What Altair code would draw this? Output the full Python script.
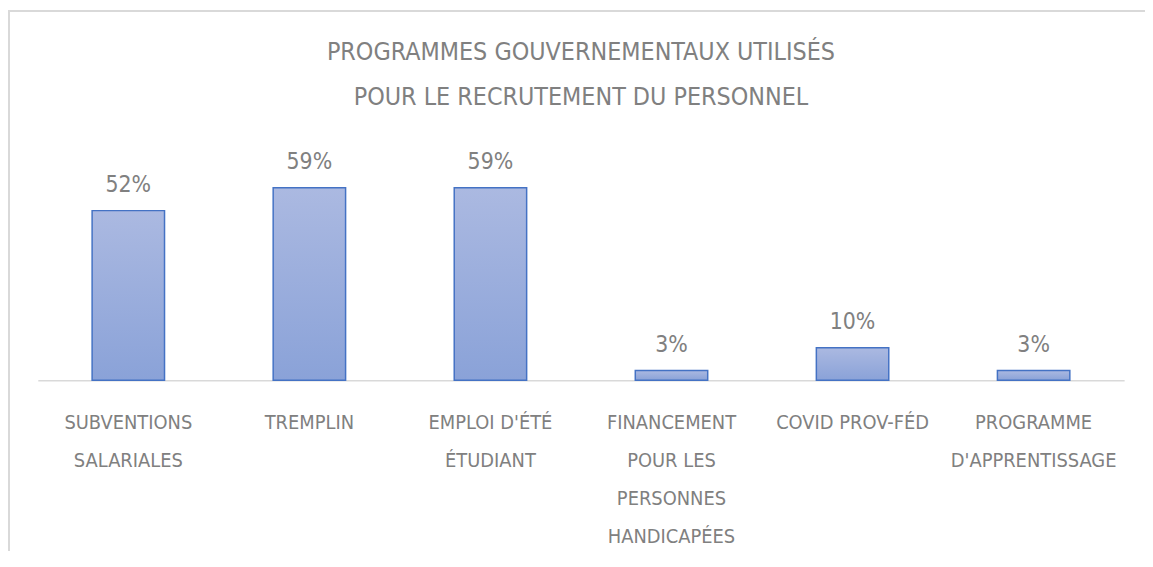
import altair as alt
import pandas as pd

categories = ["Subventions salariales", "Tremplin", "Emploi d'été étudiant",
              "Financement pour les personnes handicapées", "COVID Prov-Féd",
              "Programme d'apprentissage"]
label_lines = ["SUBVENTIONS|SALARIALES", "TREMPLIN", "EMPLOI D'ÉTÉ|ÉTUDIANT",
               "FINANCEMENT|POUR LES|PERSONNES|HANDICAPÉES", "COVID PROV-FÉD",
               "PROGRAMME|D'APPRENTISSAGE"]
values = [0.52, 0.59, 0.59, 0.03, 0.10, 0.03]

df = pd.DataFrame({"cat": categories, "lab": label_lines, "val": values})

FONT = "'DejaVu Sans Condensed', Roboto, sans-serif"
GRAY = "#808080"

label_map = "{" + ",".join(f'"{c}":"{l}"' for c, l in zip(categories, label_lines)) + "}"

x = alt.X("cat:N", sort=categories, title=None,
          scale=alt.Scale(paddingInner=0.6, paddingOuter=0.3),
          axis=alt.Axis(labelExpr=f"split({label_map}[datum.label], '|')",
                        labelAngle=0, labelFont=FONT, labelFontSize=20,
                        labelColor=GRAY, labelLineHeight=38, labelPadding=33,
                        labelBaseline="top", labelLimit=0,
                        ticks=False, domainColor="#d9d9d9", domainWidth=1.5))
y = alt.Y("val:Q", scale=alt.Scale(domain=[0, 0.7]), axis=None)

bars = alt.Chart(df).mark_bar(
    color=alt.Gradient(gradient="linear", x1=0, y1=0, x2=0, y2=1,
                       stops=[alt.GradientStop(color="#abb9e1", offset=0),
                              alt.GradientStop(color="#8aa2d8", offset=1)]),
    stroke="#4472c4", strokeWidth=1.5
).encode(x=x, y=y)

text = alt.Chart(df).mark_text(
    font=FONT, fontSize=23, color=GRAY, baseline="alphabetic", dy=-19
).encode(x=alt.X("cat:N", sort=categories), y=y,
         text=alt.Text("val:Q", format=".0%"))

frame_top = alt.Chart(df).mark_rule(color="#d9d9d9", strokeWidth=2).encode(
    x=alt.value(-30), x2=alt.value(1120), y=alt.value(-142))
frame_left = alt.Chart(df).mark_rule(color="#d9d9d9", strokeWidth=2).encode(
    x=alt.value(-29), y=alt.value(-142), y2=alt.value(420))

chart = alt.layer(frame_top, frame_left, bars, text).properties(
    width=1094, height=230,
    title=alt.Title(["PROGRAMMES GOUVERNEMENTAUX UTILISÉS",
                     "POUR LE RECRUTEMENT DU PERSONNEL"],
                    font=FONT, fontSize=25, fontWeight="normal", color=GRAY,
                    lineHeight=46, anchor="middle", frame="group",
                    offset=0, dy=101),
    autosize=alt.AutoSizeParams(type="none"),
    padding={"left": 30, "top": 143, "right": 21, "bottom": 170}
).configure_view(stroke=None)

chart.save("out.html", embed_options={"renderer": "svg", "actions": False})
